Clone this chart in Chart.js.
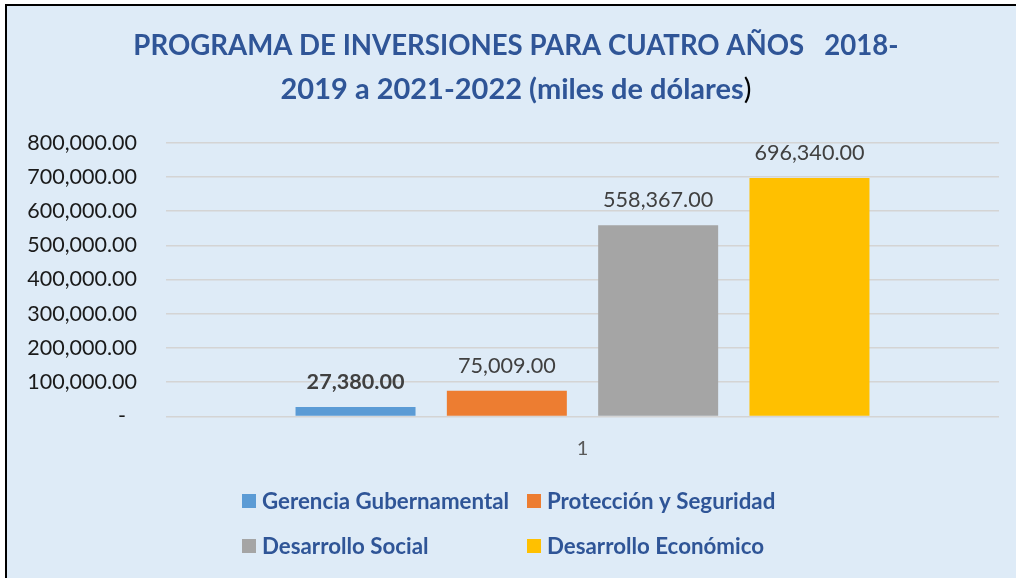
<!DOCTYPE html>
<html>
<head>
<meta charset="utf-8">
<script src="https://cdn.jsdelivr.net/npm/chart.js@4.4.1/dist/chart.umd.min.js"></script>
<style>
  html, body { margin: 0; padding: 0; background: #ffffff; overflow: hidden; }
  #frame {
    position: absolute; left: 5px; top: 4px;
    width: 1011px; height: 580px;
    border-left: 2px solid #000; border-top: 2px solid #000;
    background: #DEEBF7;
  }
  #wrap { position: absolute; left: 0; top: 0; width: 1009px; height: 572px; }
</style>
</head>
<body>
<div id="frame"><div id="wrap"><canvas id="c"></canvas></div></div>
<script>
// ---- data ----
const categories = ['1'];
const seriesNames = ['Gerencia Gubernamental', 'Protección y Seguridad', 'Desarrollo Social', 'Desarrollo Económico'];
const seriesValues = [27380.00, 75009.00, 558367.00, 696340.00];
const seriesColors = ['#5B9BD5', '#ED7D31', '#A5A5A5', '#FFC000'];
const titleLine1 = 'PROGRAMA DE INVERSIONES PARA CUATRO AÑOS   2018-';
const titleLine2 = '2019 a 2021-2022 (miles de dólares';
const titleLine2End = ')';
const yTickValues = [0, 100000, 200000, 300000, 400000, 500000, 600000, 700000, 800000];

const FONT = 'Lato';
const TITLE_BLUE = '#2F5597';

function fmt(v) {
  return v.toLocaleString('en-US', { minimumFractionDigits: 2, maximumFractionDigits: 2 });
}

const titlePlugin = {
  id: 'customTitle',
  afterDraw(chart) {
    const ctx = chart.ctx;
    const cx = 509;
    ctx.save();
    ctx.textBaseline = 'alphabetic';
    ctx.font = 'bold 27.6px ' + FONT;
    ctx.fillStyle = TITLE_BLUE;
    ctx.textAlign = 'center';
    ctx.fillText(titleLine1, cx, 49);
    ctx.textAlign = 'left';
    ctx.font = 'bold 29px ' + FONT;
    const w1 = ctx.measureText(titleLine2).width;
    ctx.font = '29px ' + FONT;
    const w2 = ctx.measureText(titleLine2End).width;
    const x0 = cx - (w1 + w2) / 2;
    ctx.font = 'bold 29px ' + FONT;
    ctx.fillStyle = TITLE_BLUE;
    ctx.fillText(titleLine2, x0, 93);
    ctx.font = '29px ' + FONT;
    ctx.fillStyle = '#000000';
    ctx.fillText(titleLine2End, x0 + w1, 93);
    ctx.restore();
  }
};

const legendPlugin = {
  id: 'customLegend',
  afterDraw(chart) {
    const ctx = chart.ctx;
    const colX = [235, 520];
    const rowY = [495, 540];
    ctx.save();
    ctx.font = 'bold 22.3px ' + FONT;
    ctx.textBaseline = 'middle';
    ctx.textAlign = 'left';
    chart.data.datasets.forEach((ds, i) => {
      const x = colX[i % 2];
      const y = rowY[Math.floor(i / 2)];
      ctx.fillStyle = ds.backgroundColor;
      ctx.fillRect(x, y - 7, 14, 14);
      ctx.fillStyle = TITLE_BLUE;
      ctx.fillText(ds.label, x + 20, y + 1);
    });
    ctx.restore();
  }
};

const dataLabelPlugin = {
  id: 'dataLabels',
  afterDatasetsDraw(chart) {
    const ctx = chart.ctx;
    ctx.save();
    ctx.textAlign = 'center';
    ctx.textBaseline = 'middle';
    ctx.fillStyle = '#404040';
    chart.data.datasets.forEach((ds, i) => {
      const meta = chart.getDatasetMeta(i);
      meta.data.forEach((bar, j) => {
        ctx.font = (i === 0 ? 'bold ' : '') + '21.6px ' + FONT;
        ctx.fillText(fmt(ds.data[j]), bar.x, bar.y - 25);
      });
    });
    ctx.restore();
  }
};

const datasets = seriesNames.map((name, i) => ({
  label: name,
  data: [seriesValues[i]],
  backgroundColor: seriesColors[i],
  borderWidth: 0,
  categoryPercentage: 0.7266,
  barPercentage: 0.793
}));

new Chart(document.getElementById('c'), {
  type: 'bar',
  data: { labels: categories, datasets },
  plugins: [titlePlugin, legendPlugin, dataLabelPlugin],
  options: {
    responsive: true,
    maintainAspectRatio: false,
    animation: false,
    layout: { padding: { left: 0, right: 17, top: 136.6, bottom: 101.6 } },
    plugins: {
      legend: { display: false },
      title: { display: false },
      tooltip: { enabled: false }
    },
    scales: {
      x: {
        grid: { display: false, drawTicks: false },
        border: { display: false },
        ticks: { color: '#595959', font: { family: FONT, size: 20 }, padding: 20 },
        afterFit(scale) { scale.height = 60; }
      },
      y: {
        min: 0, max: 800000,
        afterBuildTicks(scale) { scale.ticks = yTickValues.map(v => ({ value: v })); },
        grid: { color: '#D4D4D4', lineWidth: 1.5, drawTicks: false },
        border: { display: false },
        ticks: {
          color: '#1a1a1a',
          font: { family: FONT, size: 21.5 },
          padding: 29,
          callback: (v) => v === 0 ? '-  ' : fmt(v)
        },
        afterFit(scale) { scale.width = 159; }
      }
    }
  }
});
</script>
</body>
</html>
